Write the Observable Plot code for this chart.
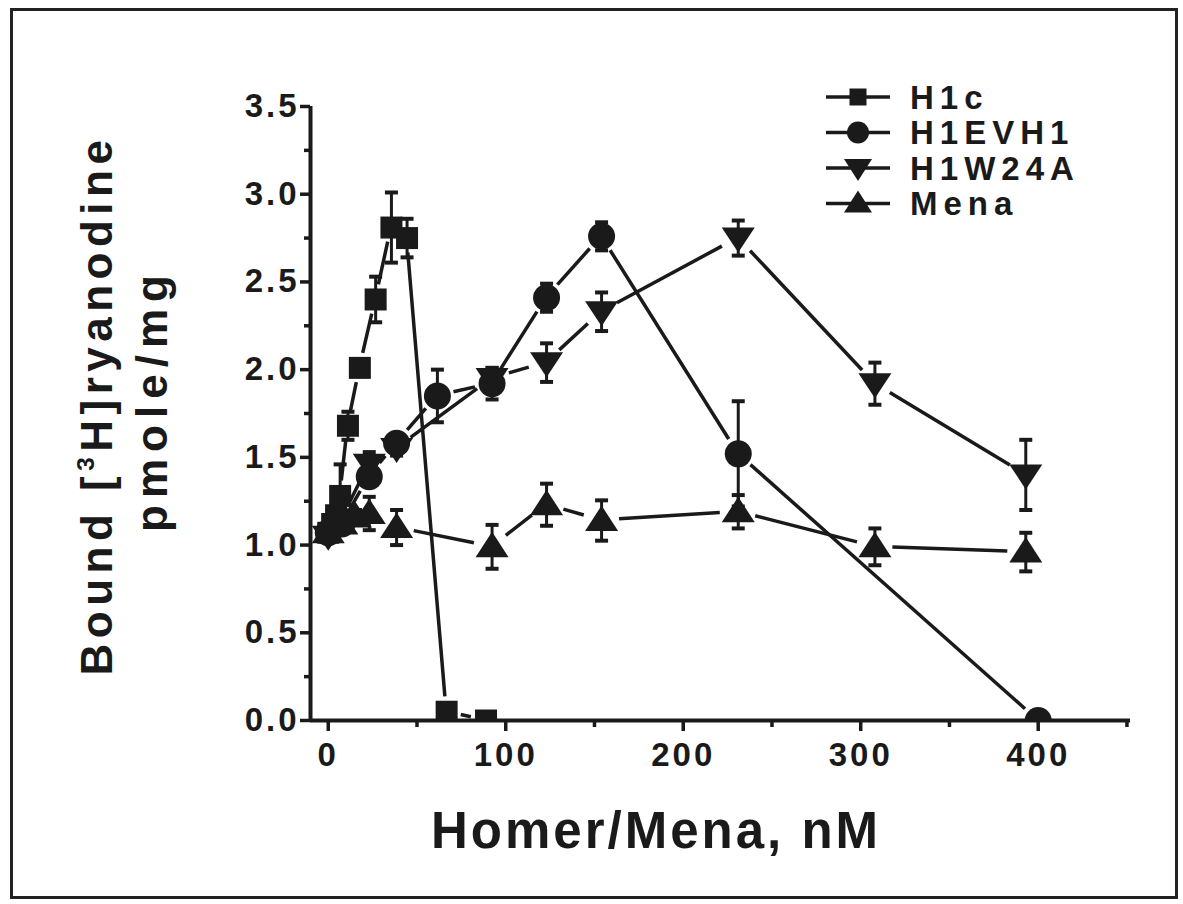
<!DOCTYPE html>
<html><head><meta charset="utf-8">
<script src="https://cdn.jsdelivr.net/npm/d3@7"></script>
<script src="https://cdn.jsdelivr.net/npm/@observablehq/plot@0.6"></script>
<style>
html,body{margin:0;padding:0;background:#fff;}
#wrap{position:relative;width:1183px;height:904px;overflow:hidden;background:#fff;}
#frame{position:absolute;left:10px;top:8px;width:1168px;height:891px;border:3px solid #222;box-sizing:border-box;pointer-events:none;}
.ttl{position:absolute;font-family:"Liberation Sans",Arial,sans-serif;font-weight:bold;color:#1a1a1a;white-space:nowrap;line-height:1;}
svg text{font-family:"Liberation Sans",Arial,sans-serif;font-weight:bold;fill:#1a1a1a;}
g[aria-label="y-axis tick label"] text{letter-spacing:3px;}
g[aria-label="x-axis tick label"] text{letter-spacing:3px;}
</style></head><body><div id="wrap"></div>
<script>
// ---- data ----
const seriesNames = ["H1c", "H1EVH1", "H1W24A", "Mena"];

const concH1c  = [0, 2.2, 4.4, 6.7, 11.1, 17.8, 26.7, 35.6, 44.4, 66.7, 88.9];
const boundH1c = [1.07, 1.12, 1.17, 1.28, 1.68, 2.01, 2.40, 2.81, 2.75, 0.05, 0.0];
const semH1c   = [0.03, 0.04, 0.05, 0.18, 0.08, 0.04, 0.13, 0.20, 0.11, 0, 0];

const concEVH1  = [0, 7.7, 23.1, 38.5, 61.5, 92.3, 123, 154, 231, 400];
const boundEVH1 = [1.07, 1.12, 1.39, 1.58, 1.85, 1.92, 2.41, 2.76, 1.52, 0.0];
const semEVH1   = [0.03, 0.04, 0.04, 0.04, 0.15, 0.09, 0.08, 0.08, 0.30, 0];

const concW24A  = [0, 7.7, 23.1, 38.5, 92.3, 123, 154, 231, 308, 393];
const boundW24A = [1.05, 1.15, 1.46, 1.55, 1.95, 2.04, 2.33, 2.75, 1.92, 1.40];
const semW24A   = [0.03, 0.04, 0.07, 0.04, 0.06, 0.11, 0.11, 0.10, 0.12, 0.20];

const concMena  = [0, 7.7, 15.4, 23.1, 38.5, 92.3, 123, 154, 231, 308, 393];
const boundMena = [1.07, 1.12, 1.16, 1.18, 1.10, 0.99, 1.23, 1.14, 1.19, 0.99, 0.96];
const semMena   = [0.03, 0.04, 0.04, 0.095, 0.10, 0.125, 0.12, 0.115, 0.095, 0.105, 0.11];

const yMajorTicks = [0, 0.5, 1.0, 1.5, 2.0, 2.5, 3.0, 3.5];
const yMinorTicks = [0.25, 0.75, 1.25, 1.75, 2.25, 2.75, 3.25];
const xMajorTicks = [0, 100, 200, 300, 400];
const xMinorTicks = [50, 150, 250, 350, 450];

const xTitle = "Homer/Mena, nM";

// ---- symbols ----
const INK = "#1a1a1a";
const symSquare = {draw(c){ c.rect(-11, -11, 22, 22); }};
const symCircle = {draw(c){ c.moveTo(13.5, 0); c.arc(0, 0, 13.5, 0, 2*Math.PI); }};
const symTriUp = {draw(c){ c.moveTo(0, -15); c.lineTo(16.5, 10.5); c.lineTo(-16.5, 10.5); c.closePath(); }};
const symTriDown = {draw(c){ c.moveTo(0, 14.5); c.lineTo(16.5, -10.5); c.lineTo(-16.5, -10.5); c.closePath(); }};
const symCap = {draw(c){ c.rect(-6.5, -2, 13, 4); }};

const series = [
  {name: seriesNames[0], x: concH1c, y: boundH1c, e: semH1c, sym: symSquare, gap: 15},
  {name: seriesNames[1], x: concEVH1, y: boundEVH1, e: semEVH1, sym: symCircle, gap: 17},
  {name: seriesNames[2], x: concW24A, y: boundW24A, e: semW24A, sym: symTriDown, gap: 18},
  {name: seriesNames[3], x: concMena, y: boundMena, e: semMena, sym: symTriUp, gap: 18}
];

function rows(s){ return s.x.map((x, i) => ({x, y: s.y[i], e: s.e[i], name: s.name})); }
function segs(s){
  const out = [];
  for (let i = 1; i < s.x.length; i++) out.push({x1: s.x[i-1], y1: s.y[i-1], x2: s.x[i], y2: s.y[i], g: s.gap});
  return out;
}

function gapLinks(data){
  return Plot.link(data, {
    x1: "x1", y1: "y1", x2: "x2", y2: "y2", stroke: INK, strokeWidth: 3.5,
    render(index, scales, values, dimensions, context, next){
      const {x1: X1, y1: Y1, x2: X2, y2: Y2} = values;
      const g = d3.create("svg:g").attr("stroke", INK).attr("stroke-width", 3.5).attr("fill", "none");
      for (const i of index){
        const dx = X2[i]-X1[i], dy = Y2[i]-Y1[i], L = Math.hypot(dx, dy);
        const a = data[i].g;
        if (L <= 2*a + 2) continue;
        const ux = dx/L, uy = dy/L;
        g.append("line")
          .attr("x1", X1[i] + ux*a).attr("y1", Y1[i] + uy*a)
          .attr("x2", X2[i] - ux*a).attr("y2", Y2[i] - uy*a);
      }
      return g.node();
    }
  });
}

const marks = [];
for (const s of series) marks.push(gapLinks(segs(s)));
for (const s of series){
  const d = rows(s).filter(r => r.e > 0);
  marks.push(Plot.ruleX(d, {x: "x", y1: r => r.y - r.e, y2: r => r.y + r.e, stroke: INK, strokeWidth: 3}));
  marks.push(Plot.dot(d, {x: "x", y: r => r.y + r.e, symbol: symCap, fill: INK, stroke: "none"}));
  marks.push(Plot.dot(d, {x: "x", y: r => r.y - r.e, symbol: symCap, fill: INK, stroke: "none"}));
}
for (const s of series){
  marks.push(Plot.dot(rows(s), {x: "x", y: "y", symbol: s.sym, fill: INK, stroke: "none", clip: true}));
}

const chart = Plot.plot({
  width: 1183, height: 904,
  marginLeft: 310, marginRight: 53, marginTop: 106, marginBottom: 184,
  x: {domain: [-10, 452]},
  y: {domain: [0, 3.5]},
  style: {background: "transparent", color: INK, fontFamily: "Liberation Sans, Arial, sans-serif", fontWeight: "bold", overflow: "visible"},
  marks: [
    Plot.axisY({ticks: yMinorTicks, tickSize: 6, strokeWidth: 3.5, tickFormat: () => "", label: null}),
    Plot.axisY({ticks: yMajorTicks, tickSize: 10, tickPadding: 1, strokeWidth: 3.5, tickFormat: d3.format(".1f"), fontSize: 33, label: null}),
    Plot.axisX({ticks: xMinorTicks, tickSize: 7, strokeWidth: 3.5, tickFormat: () => "", label: null}),
    Plot.axisX({ticks: xMajorTicks, tickSize: 11, tickPadding: 11, strokeWidth: 3.5, tickFormat: d3.format("d"), fontSize: 33, label: null}),
    Plot.ruleX([-10], {stroke: INK, strokeWidth: 4}),
    Plot.ruleY([0], {stroke: INK, strokeWidth: 4}),
    ...marks
  ]
});

const wrap = document.getElementById("wrap");
wrap.appendChild(chart);

// axis titles
const yt1 = document.createElement("div");
yt1.className = "ttl";
yt1.innerHTML = 'Bound [<sup style="font-size:0.55em;vertical-align:0.75em;line-height:0">3</sup>H]ryanodine';
yt1.style.cssText = "left:97px;top:405px;font-size:44px;letter-spacing:5.5px;transform:translate(-50%,-50%) rotate(-90deg);";
wrap.appendChild(yt1);
const yt2 = document.createElement("div");
yt2.className = "ttl";
yt2.textContent = "pmole/mg";
yt2.style.cssText = "left:152px;top:400px;font-size:44px;letter-spacing:7px;transform:translate(-50%,-50%) rotate(-90deg);";
wrap.appendChild(yt2);
const xt = document.createElement("div");
xt.className = "ttl";
xt.textContent = xTitle;
xt.style.cssText = "left:656px;top:805px;font-size:51px;letter-spacing:3px;transform:translateX(-50%);";
wrap.appendChild(xt);

// legend
const leg = d3.select(wrap).append("svg")
  .attr("width", 320).attr("height", 160)
  .style("position", "absolute").style("left", "815px").style("top", "70px");
const legSyms = [
  {draw(c){ c.rect(-8.5, -8.5, 17, 17); }},
  {draw(c){ c.moveTo(11, 0); c.arc(0, 0, 11, 0, 2*Math.PI); }},
  {draw(c){ c.moveTo(0, 13); c.lineTo(14, -9); c.lineTo(-14, -9); c.closePath(); }},
  {draw(c){ c.moveTo(0, -13); c.lineTo(14, 9); c.lineTo(-14, 9); c.closePath(); }}
];
seriesNames.forEach((n, i) => {
  const g = leg.append("g").attr("transform", `translate(0,${27 + i*35.5})`);
  g.append("line").attr("x1", 11).attr("x2", 75).attr("stroke", INK).attr("stroke-width", 3.5);
  g.append("path").attr("transform", "translate(43,0)").attr("d", d3.symbol(legSyms[i])()).attr("fill", INK);
  g.append("text").attr("x", 95).attr("dy", "0.36em").attr("font-size", 33).style("letter-spacing", "6px").text(n);
});

const frame = document.createElement("div");
frame.id = "frame";
wrap.appendChild(frame);
</script>
</body></html>
